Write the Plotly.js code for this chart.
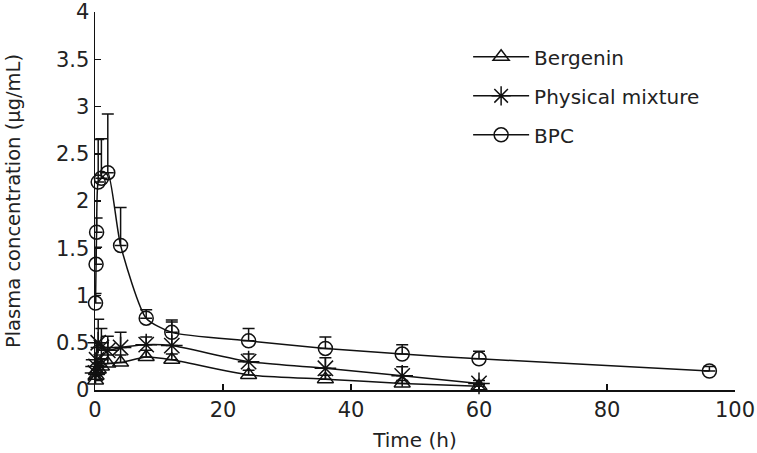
<!DOCTYPE html>
<html>
<head>
<meta charset="utf-8">
<script src="https://cdn.plot.ly/plotly-3.0.1.min.js"></script>
<style>html,body{margin:0;padding:0;background:#fff;}#chart{width:757px;height:453px;}</style>
</head>
<body>
<div id="chart"></div>
<script>
// Time points (h)
var timeFree = [0.083, 0.167, 0.25, 0.5, 1, 2, 4, 8, 12, 24, 36, 48, 60];
var timeBPC  = [0.083, 0.167, 0.25, 0.5, 1, 2, 4, 8, 12, 24, 36, 48, 60, 96];

// Bergenin
var bergeninMean = [0.10, 0.15, 0.20, 0.22, 0.25, 0.28, 0.29, 0.35, 0.32, 0.16, 0.115, 0.07, 0.04];
var bergeninSD   = [0.05, 0.06, 0.06, 0.08, 0.08, 0.09, 0.08, 0.07, 0.06, 0.05, 0.04, 0.03, 0.02];

// Physical mixture
var mixtureMean = [0.18, 0.25, 0.32, 0.50, 0.45, 0.42, 0.45, 0.48, 0.47, 0.30, 0.23, 0.15, 0.07];
var mixtureSD   = [0.10, 0.12, 0.15, 0.25, 0.20, 0.15, 0.16, 0.08, 0.25, 0.08, 0.11, 0.095, 0.03];

// BPC
var bpcMean = [0.92, 1.33, 1.67, 2.20, 2.24, 2.30, 1.53, 0.76, 0.61, 0.52, 0.44, 0.38, 0.33, 0.20];
var bpcSD   = [0.10, 0.18, 0.15, 0.45, 0.42, 0.62, 0.40, 0.09, 0.13, 0.13, 0.12, 0.10, 0.08, 0.05];

var seriesNames = ['Bergenin', 'Physical mixture', 'BPC'];
var xTicks = [0, 20, 40, 60, 80, 100];
var yTicks = [0, 0.5, 1, 1.5, 2, 2.5, 3, 3.5, 4];
var yTickText = ['0', '0.5', '1', '1.5', '2', '2.5', '3', '3.5', '4'];

function zeros(n){ var a=[]; for(var i=0;i<n;i++) a.push(0); return a; }

function mk(name, x, y, sd, symbol, size, group){
  return {
    type: 'scatter', mode: 'lines+markers', name: name,
    x: x, y: y, legendgroup: group, cliponaxis: false,
    line: {color: '#111', width: 1.5, shape: 'spline', smoothing: 0.6},
    marker: {symbol: symbol, size: size, color: '#111', line: {color: '#111', width: 1.5}},
    error_y: {type: 'data', symmetric: false, array: sd, arrayminus: zeros(sd.length),
              color: '#111', thickness: 1.5, width: 6}
  };
}

var data = [
  mk(seriesNames[0], timeFree, bergeninMean, bergeninSD, 'triangle-up-open', 14, 'g1'),
  mk(seriesNames[1], timeFree, mixtureMean, mixtureSD, 'asterisk-open', 18, 'g2'),
  mk(seriesNames[2], timeBPC, bpcMean, bpcSD, 'circle-open', 14, 'g3')
];

var fontFam = 'DejaVu Sans, sans-serif';
var layout = {
  width: 757, height: 453,
  margin: {l: 95, r: 22, t: 12, b: 63},
  paper_bgcolor: '#fff', plot_bgcolor: '#fff',
  font: {family: fontFam, size: 20, color: '#222'},
  showlegend: true,
  legend: {x: 0.583, y: 0.933, xanchor: 'left', yanchor: 'top', itemwidth: 56,
           bgcolor: 'rgba(0,0,0,0)', font: {family: fontFam, size: 20, color: '#222'},
           tracegroupgap: 10, traceorder: 'grouped'},
  xaxis: {
    range: [0, 100], tickvals: xTicks,
    showline: true, linecolor: '#111', linewidth: 1.5,
    ticks: 'inside', ticklen: 6, tickwidth: 1.5, tickcolor: '#111',
    showgrid: false, zeroline: false,
    tickfont: {family: fontFam, size: 21, color: '#222'},
    title: {text: 'Time (h)', standoff: 12, font: {family: fontFam, size: 20, color: '#222'}}
  },
  yaxis: {
    range: [0, 4.0001], tickvals: yTicks, ticktext: yTickText,
    ticklabeloverflow: 'allow',
    showline: true, linecolor: '#111', linewidth: 1.5,
    ticks: 'inside', ticklen: 6, tickwidth: 1.5, tickcolor: '#111',
    showgrid: false, zeroline: false,
    tickfont: {family: fontFam, size: 21, color: '#222'},
    title: {text: 'Plasma concentration (μg/mL)', standoff: 30, font: {family: fontFam, size: 19.5, color: '#222'}}
  }
};

Plotly.newPlot('chart', data, layout, {displayModeBar: false, staticPlot: true});
</script>
</body>
</html>
